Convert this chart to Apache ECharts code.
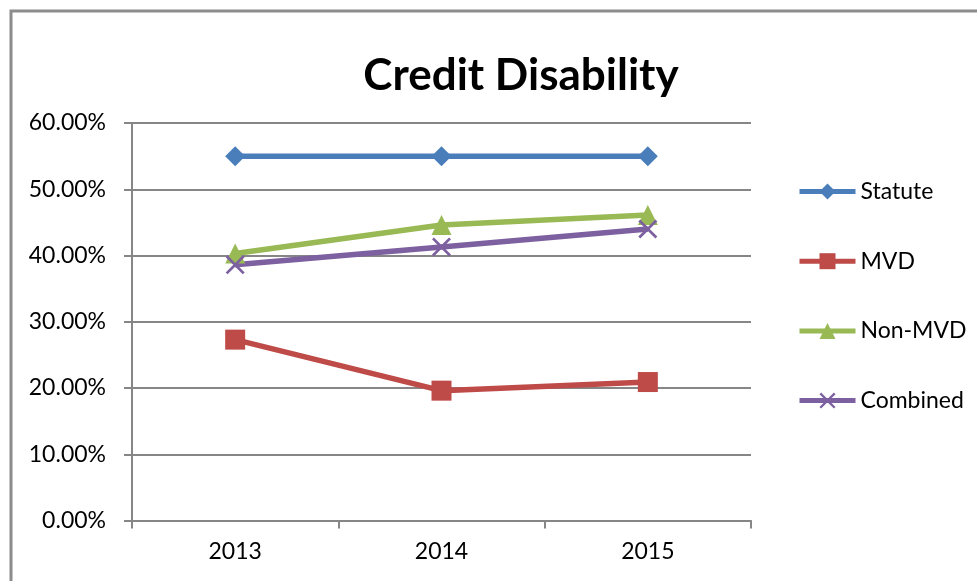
<!DOCTYPE html>
<html>
<head>
<meta charset="utf-8">
<script src="https://cdn.jsdelivr.net/npm/echarts@6/dist/echarts.min.js"></script>
<style>
  html, body { margin: 0; padding: 0; background: #fff; }
  #chart { width: 977px; height: 581px; }
</style>
</head>
<body>
<div id="chart"></div>
<script>
// Category axis and series values (fractions of 1)
const years = ['2013', '2014', '2015'];
const statute = [0.55, 0.55, 0.55];
const mvd = [0.273, 0.196, 0.209];
const nonMvd = [0.403, 0.446, 0.461];
const combined = [0.386, 0.413, 0.440];
const yTicks = [0, 0.1, 0.2, 0.3, 0.4, 0.5, 0.6];

const FONT = 'Lato';
const GREY = '#868686';
// Filled "x" marker shape
const CROSS = 'path://M0,1 L1,0 L5,4 L9,0 L10,1 L6,5 L10,9 L9,10 L5,6 L1,10 L0,9 L4,5 Z';

function lineSeries(name, data, color, symbol, size) {
  return {
    name: name,
    type: 'line',
    data: data,
    symbol: symbol,
    symbolSize: size,
    showAllSymbol: true,
    lineStyle: { color: color, width: 5.5 },
    itemStyle: { color: color },
    emphasis: { disabled: true },
    animation: false
  };
}

const chart = echarts.init(document.getElementById('chart'), null, { renderer: 'canvas' });
chart.setOption({
  backgroundColor: '#ffffff',
  animation: false,
  title: {
    text: 'Credit Disability',
    left: 516,
    textAlign: 'center',
    top: 49,
    textStyle: { fontFamily: FONT, fontWeight: 'bold', fontSize: 44, color: '#000' }
  },
  graphic: [{
    type: 'rect',
    shape: { x: 11, y: 11, width: 1200, height: 1200 },
    style: { fill: 'none', stroke: '#8c8c8c', lineWidth: 3 },
    silent: true
  }],
  legend: {
    orient: 'vertical',
    left: 797,
    top: 180,
    padding: 0,
    itemWidth: 56,
    itemHeight: 20,
    itemGap: 46.7,
    lineStyle: { width: 5 },
    textStyle: { fontFamily: FONT, fontSize: 23, color: '#000', lineHeight: 20 },
    data: ['Statute', 'MVD', 'Non-MVD', 'Combined']
  },
  grid: { left: 132, right: 226, top: 123, bottom: 60.5, containLabel: false },
  xAxis: {
    type: 'category',
    data: years,
    boundaryGap: true,
    axisLine: { lineStyle: { color: GREY, width: 2 } },
    axisTick: { show: true, length: 8, lineStyle: { color: GREY, width: 2 } },
    axisLabel: { margin: 20, fontFamily: FONT, fontSize: 23, color: '#000' },
    splitLine: { show: false }
  },
  yAxis: {
    type: 'value',
    min: yTicks[0],
    max: yTicks[yTicks.length - 1],
    interval: 0.1,
    axisLine: { show: true, lineStyle: { color: GREY, width: 2 } },
    axisTick: { show: true, length: 8, lineStyle: { color: GREY, width: 2 } },
    axisLabel: {
      margin: 26,
      fontFamily: FONT,
      fontSize: 23,
      color: '#000',
      formatter: v => (v * 100).toFixed(2) + '%'
    },
    splitLine: { show: true, lineStyle: { color: GREY, width: 2 } }
  },
  series: [
    lineSeries('Statute', statute, '#4a7ebb', 'diamond', 20),
    lineSeries('MVD', mvd, '#be4b48', 'rect', 20),
    lineSeries('Non-MVD', nonMvd, '#98b954', 'triangle', 20),
    lineSeries('Combined', combined, '#7d60a0', CROSS, 19)
  ]
});
</script>
</body>
</html>
